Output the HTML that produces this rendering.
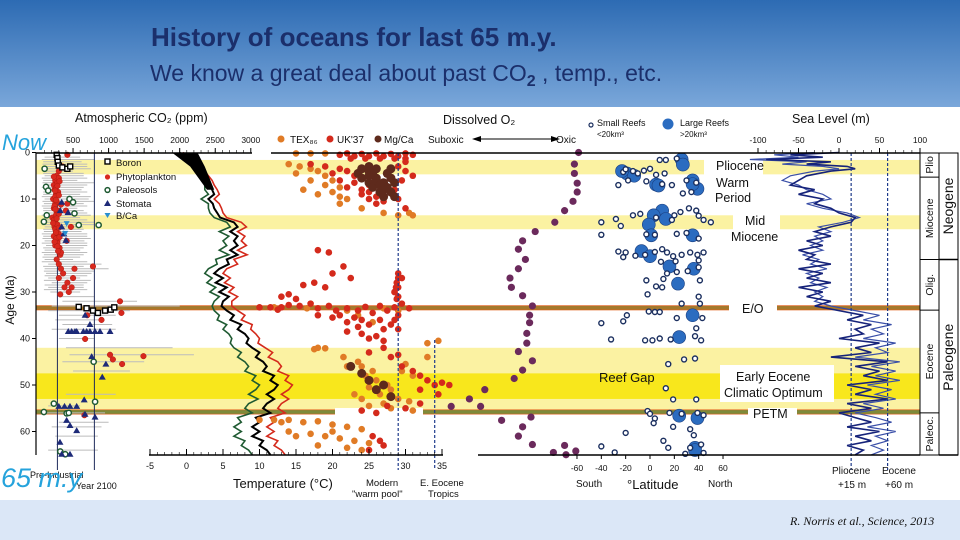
<!DOCTYPE html>
<html><head><meta charset="utf-8"><style>
html,body{margin:0;padding:0;width:960px;height:540px;overflow:hidden;background:#fff;font-family:"Liberation Sans",sans-serif}
#hdr{position:absolute;left:0;top:0;width:960px;height:107px;background:linear-gradient(#2d6bb3,#7aa7da)}
#t1{position:absolute;left:151px;top:22px;font-size:26px;font-weight:bold;color:#1b2f6b;white-space:nowrap}
#t2{position:absolute;left:150px;top:60px;font-size:23px;color:#1b2f6b;white-space:nowrap}
#foot{position:absolute;left:0;top:500px;width:960px;height:40px;background:#dbe7f7}
#cite{position:absolute;left:790px;top:14px;font-family:"Liberation Serif",serif;font-style:italic;font-size:12px;color:#111;white-space:nowrap}
svg{position:absolute;left:0;top:0}
</style></head><body>
<div id="hdr">
<div id="t1">History of oceans for last 65 m.y.</div>
<div id="t2">We know a great deal about past CO<b style="font-size:16px;vertical-align:-5px">2</b> , temp., etc.</div>
</div>
<div id="foot"><div id="cite">R. Norris et al., Science, 2013</div></div>
<svg id="chart" width="960" height="500" viewBox="0 0 960 500" style="top:0"></svg>
<script>
// ---- data ----
const bandStarts=[1.6,13.5,42,47.5];
const bandEnds=[4.7,16.5,55.5,53];
const eventAges=[33.4,55.8];
const epochBounds=[0,5.3,23,33.9,56,65.5];
const epochNames=["Plio","Miocene","Olig.","Eocene","Paleoc."];
const periodBounds=[0,23,65.5];
const periodNames=["Neogene","Paleogene"];
const ageTicks=[0,10,20,30,40,50,60];
const co2Ticks=[500,1000,1500,2000,2500,3000];
const tempTicks=[-5,0,5,10,15,20,25,30,35];
const latTicks=[-60,-40,-20,0,20,40,60];
const seaTicks=[-100,-50,0,50,100];
// CO2 proxies
const boronAge=[0.5,1.2,2,2.8,3.2,3.5,3.0,33.2,33.5,34,34.5,34,33.8,33.3];
const boronPpm=[270,280,285,300,350,420,460,580,690,780,850,950,1030,1080];
const phytoAge=[0.5,3,4,5,6,7,8,9,10,11,12,13,14,15,16,17,18,19,20,21,22,23,24,25,26,27,28,29,30,30.5,25,24.5,27,29,11,12.5,16,19,35,36,34.5,32,43.5,43.8,45.5,44.5,56.5,40.1,
 5.5,6.5,7.5,8.5,9.5,10.5,11.5,12.5,13.5,14.5,15.5,16.5,17.5,18.5,19.5,20.5,21.5,5.2,6.2,7.2,8.2,9.2,10.2,11.2,12.2,13.2,14.2,15.2,16.2,17.2,18.2,19.2,20.2,21.2];
const phytoPpm=[420,350,300,270,250,230,240,260,220,250,230,270,210,250,240,260,230,280,250,300,320,270,300,330,360,300,420,380,440,320,520,780,500,480,420,400,470,410,700,900,1180,1160,1020,1490,1190,1060,660,670,
 300,280,260,290,250,270,240,290,260,230,280,250,300,260,280,310,330,230,310,280,250,300,260,330,250,300,270,220,300,260,310,240,280,290];
const paleoAge=[3.5,7.4,8.2,10,10.7,13.1,14.9,13.5,15.6,15.6,45,53.6,54,55.8,56.1,64.9,64.3,56];
const paleoPpm=[100,120,150,450,500,520,90,130,580,860,790,810,230,90,410,390,320,440];
const stomAge=[10.7,12.5,16,17.5,18.9,12.9,37,35,38.5,38.5,38.5,38.5,38.5,38.5,38.5,38.5,38.5,38.5,43.9,45.5,48.3,53.2,54.6,54.6,54.6,54.6,56.3,56.9,57.6,58.7,59.8,62.3,64.9,64.9];
const stomPpm=[340,320,340,370,400,430,738,670,433,480,527,551,645,691,738,809,879,1020,762,962,911,657,551,457,380,300,668,809,410,457,551,316,457,340];
const bcaAge=[15.3,17.4];
const bcaPpm=[410,390];
const errAge=[1,2,3,4,5,6,7,8,9,10,11,12,13,14,15,16,17,18,19,20,21,22,23,24,25,26,27,28,29,30,31,32,33,34,35,36,37,38,40,42,43.5,45,47,52,54.5,56,58,59,61,64,
 1.5,2.5,3.5,4.5,5.5,6.5,7.5,8.5,9.5,10.5,11.5,12.5,13.5,14.5,15.5,16.5,17.5,18.5,19.5,20.5,21.5,22.5,23.5,24.5,25.5,26.5,27.5,28.5,29.5];
const errLo=[100,80,90,120,100,80,90,100,80,100,90,80,100,90,80,100,90,80,100,120,100,90,100,150,100,120,150,200,150,180,300,350,200,150,300,250,350,200,300,400,450,350,500,400,150,100,300,200,250,150,
 60,70,60,80,60,70,60,80,60,70,60,80,60,70,60,80,60,70,60,80,60,70,60,80,90,100,90,100,90];
const errHi=[600,620,700,500,650,560,700,620,600,720,650,560,700,600,800,640,620,700,660,700,600,650,500,900,1000,760,600,700,650,600,800,1400,2000,1300,1100,900,1050,1100,800,1900,2200,1500,1300,1100,600,950,1000,900,850,850,
 800,700,750,650,700,800,650,700,750,800,700,650,750,700,800,650,700,750,700,650,700,600,700,650,800,700,750,650,700];
// temperature curves
const tAge=[0,1,2,3,4,5,6,7,8,9,10,11,12,13,14,15,16,17,18,19,20,21,22,23,24,25,26,27,28,29,30,31,32,33,34,35,36,37,38,39,40,41,42,43,44,45,46,47,48,49,50,51,52,53,54,55,56,57,58,59,60,61,62,63,64,65];
const tBlack=[-1,0,1,1.5,2,2.5,3,3.2,3.5,3.8,3,3.6,3.8,4.2,4.6,6.5,7,6,7,6.5,7,6,7,5.5,5.8,4.5,3.8,5,4,5.5,4.5,5.8,5,4.8,5.5,6.5,6,7.5,7,8,8.5,8.2,9,10,9.5,10.5,11,10.5,12,11.5,12.5,12,11,12,11,10.5,11.5,9.5,10,9,10,9,10.5,10,11,11.5];
const tGreen=[-1,-0.5,0.5,1,1.5,2,2.5,2.5,2.5,3,2,3,3,3.2,3.8,5.5,6,4.5,5.8,5,5.5,4.5,5.8,4,4.2,3,2.5,3.5,2.8,4,3.2,4.5,3.8,3.5,3.8,4.5,4.2,5.5,5,5.8,6.2,6,6.5,7.5,7,8,8.5,8,9.5,9,10,9.5,8.5,9.8,8.5,8,9,7,7.5,6.5,7.5,6.5,8,7.5,8.5,9];
const tRed=[-0.5,0.5,1.5,2,2.5,3,3.5,3.8,4.2,4.5,3.8,4.5,4.8,5,5.5,7.5,8.2,7,8,7.5,8.2,7,8.3,6.5,7,5.5,5,6,5.2,6.5,5.8,7,6.2,6.2,7,8,7.5,9,8.8,9.5,10,9.8,10.8,11.8,11.2,12.5,13,12.5,14,13.5,14.5,14,13,14,13,12.5,13.5,11.5,12,11,12,11,12.5,12,13,13.5];
// temperature proxies
const ukAge=[0.2,0.3,0.2,0.3,0.2,0.8,0.8,0.8,0.8,1.3,1.3,1.3,1.3,1.3,0.5,0.5,2.5,3,3.5,4,4.5,5,5.5,6,6.5,7,7.5,8,8.5,9,9.5,10,10.5,11,4,5,3,2,6,8,10,12,21,21.5,24.5,27,26,29,28.5,28,26,27,29,30,31,33.3,33.3,33.3,32.8,33,32.5,33.5,33,34,33.5,34,33.2,34.5,33,34,33.3,32.5,33.5,35,35.5,36,36.5,37,37.5,36,37,38,39,39.5,40,40.5,35,35.5,38.5,31,31.5,30.5,30,31.5,29,28,27,35,36,38,33.8,44,46,47,48,49,49.5,50,51,50,52,54,55,56,55.5,43,42,43.5,54.5,63,64,62,61];
const ukTemp=[22,24,26,28,30,23,25,27,29,22.5,24.5,26.5,28.5,30,21,31,17,19,21,22,20,23,24,21,23,25,22,24,25,24,26,25,27,26,30,31,29,30,29.5,28.5,29,30,18,19.5,21.5,22.5,20,19,16,17.5,29,29.5,29,28.5,29,10,11.5,13,14,15.5,17,18,19.5,20.5,22,23.5,24.5,25.5,26.5,27.5,28.5,29.5,30.5,21,23,24,22,25,23.5,26.5,28,27,24,26,25,27,18,20,22,13,15,14,28.5,28.8,28.7,28.8,29,29,28.5,29,12.5,28,29.5,31,32,33,35,34,32,36,34.5,32,30,26,24,25,27,29,27.5,27,25,26.5,25.5];
const texAge=[0.2,0.2,0.2,2.5,3,3.5,4,4.5,5,6,6,7,7.5,8,8.5,9,9.5,10,11,12,13,13.5,13.5,13,33.3,33.5,34,33.5,34,35,36.5,42,42.3,42.1,44,45,46,47,48,49,50,50.5,51,52,53,53.5,54,54.5,55,41,40.5,45.5,47,48,55.5,44,46,52,53,57.5,57.5,57.5,58,57.8,58.5,59,59.5,60,60.5,61,61.5,62,62.5,63,63.5,58,60,61,64];
const texTemp=[15,17,19,14,15.5,17,18,15,19,17,20,19,21,16,20,18,21,22,21,24,27,29,31,30.5,12,16.5,22,27,29,23.5,25.5,18,17.5,19,21.5,23.5,24,25.5,24.5,26,27.5,25,28,26.5,29,30.5,27,25,28,33,34.5,30,29.5,31,31,33,22,23,24,10,12,14,16,18,20,22,24,14,17,19,21,23,25,18,22,13,20,15,24];
const mgAge=[3.5,3.5,3.5,4.5,4.5,4.5,5.5,5.5,5.5,6.5,6.5,6.5,7.5,7.5,8.5,8.5,9.5,9.5,3,4,5,6,7,8,46,47.5,49,50,51,52.5];
const mgTemp=[24,26,28,23.5,25.5,27.5,24,26,28,25,27,28.5,25.5,27.5,26.5,28,27,28.5,25,25,25,26,26.5,27,22.5,24,25,27,26,28];
// dissolved O2 (relative, 0 = suboxic, 100 = oxic)
const o2Age=[0,2.5,4.5,6.6,8.5,10.5,12.5,15,17,19,20.8,23,25,27,29,30.8,33,35,36.6,38.9,41,42.8,44.8,46.8,48.6,51,54.6,53,54.6,57.6,56.9,59,61,62.8,64.5,63,65,64.2];
const o2Val=[99,96,96,98,98,95,89,82,68,59,56,61,56,50,51,59,66,64,64,62,62,56,66,59,53,32,29,21,8,44,65,59,56,66,81,89,90,97];
// reefs
const smallLat=[8,13,22,-22,-20,-14,-10,-5,0,5,12,-26,-18,-3,10,18,30,38,34,27,38,32,25,20,40,44,50,-40,-28,-24,-14,-8,5,18,-40,-3,4,22,30,40,-26,-22,-20,-12,-4,4,10,14,19,26,33,39,44,40,9,21,11,14,22,31,40,41,-3,5,10,-2,26,40,41,-1,4,8,-19,-22,22,43,-40,38,-32,-4,2,8,17,37,42,15,28,37,13,19,38,-2,0,4,16,26,39,44,3,19,33,36,-20,11,15,-40,-29,29,33,44,42];
const smallAge=[1.6,1.6,1.3,4.2,3.6,4,4.5,3.9,3.5,4.8,4.5,7,6,6.2,6.8,7,6,6.5,8.5,8.8,12.5,12,12.8,13.5,13.6,14.5,15,15,14.3,15.8,13.5,13.2,14,14.5,17.7,17.6,17.7,17.5,17.3,18.5,21.3,22.5,21.5,22.2,22,21.4,20.8,21.5,22.3,22,21.5,22,21.5,23.2,23.5,23.4,27.2,26,25.7,25.5,24.7,27.5,27.5,28.8,29,30.5,32.5,31,32.5,34.2,34.3,34.3,35,36.3,35.6,35.6,36.7,37.8,40.2,40.4,40.4,40,40.2,39.5,40.4,45.5,44.5,44.3,50.7,53.1,53.1,55.6,56.2,57.2,56,56.2,56,56.5,58.2,59,59.5,60.8,60.3,62,63.5,63.2,64.5,64.8,63.5,64.6,62.8];
const largeLat=[26,27,-19,-13,-23,5,7,35,39,35,10,3,13,-1,1,35,-7,0,16,36,23,35,24,24,39,37,37];
const largeAge=[1.5,2.6,4.5,5,4,6.9,7.1,6,7.8,6.8,12.5,13.5,14.3,15.5,17.8,17.8,21.2,22.3,24.5,25,28.2,35,39.7,56.6,57.1,63.5,64];
// sea level
const seaAge=[0,0.5,1,1.5,2,2.5,3,3.5,4,5,6,7,8,9,10,11,12,13,14,15,16,17,18,19,20,21,22,23,24,25,26,27,28,29,30,31,32,33,34,35,36,37,38,39,40,41,42,43,44,45,46,47,48,49,50,51,52,53,54,55,56,57,58,59,60,61,62,63,64,65];
const seaA=[0,-60,-20,-90,-10,-40,10,20,-10,-40,-50,-60,-30,-50,-20,-30,-10,0,20,15,-10,-30,-10,-40,-20,-50,-30,-40,-10,-50,-20,-40,-10,-50,-20,-40,-10,-30,0,30,10,40,20,30,0,50,20,40,-10,60,20,50,30,60,10,40,20,60,10,40,0,20,40,10,50,20,40,10,30,20];
const seaB=[-30,-80,-50,-110,-40,-70,-20,0,-30,-60,-70,-50,-40,-20,-10,-40,-20,10,25,5,-25,-10,-30,-20,-35,-20,-45,-25,-35,-15,-40,-25,-35,-15,-30,-20,-30,-10,20,50,30,65,40,55,30,70,45,60,20,75,40,70,45,75,35,65,45,70,30,55,20,45,65,35,70,45,60,40,55,40];

// ---- scales ----
const yA=a=>152.5+a*4.65;
const xC=p=>37.5+p*0.0711;
const xT=t=>186.5+t*7.3;
const xL=l=>650+l*1.217;
const xS=m=>839+m*0.81;
const xO=v=>440+v*1.4;

const svg=document.getElementById('chart');
const NS='http://www.w3.org/2000/svg';
function mk(tag,attrs,parent){const e=document.createElementNS(NS,tag);for(const k in attrs)e.setAttribute(k,attrs[k]);(parent||svg).appendChild(e);return e;}
function txt(x,y,s,size,extra){const e=mk('text',Object.assign({x:x,y:y,'font-size':size,fill:'#111','font-family':'Liberation Sans, sans-serif'},extra||{}));e.textContent=s;return e;}

let bg=mk('rect',{x:0,y:107,width:960,height:393,fill:'#fff'});



const bandColors=['#fbf2a2','#fbf2a2','#fbf2a2','#f8e71c'];
for(let i=0;i<bandStarts.length;i++){
  const r=mk('rect',{x:36,y:yA(bandStarts[i]),width:884,height:yA(bandEnds[i])-yA(bandStarts[i]),fill:bandColors[i]});
  
  
}
const evColors=['#a4792c','#7e8a3a'];
for(let i=0;i<eventAges.length;i++){
  const y=yA(eventAges[i]);
  mk('rect',{x:36,y:y-2.5,width:884,height:5,fill:'#e0601e'});
  const r=mk('rect',{x:36,y:y-1.8,width:884,height:3.6,fill:evColors[i]});
  
  
}
[[704,yA(1.6)-1,59,16],[733,yA(13.5)-1,47,16],[729,yA(33.4)-4,48,8],[748,yA(55.8)-4,49,8],[335,yA(55.8)-4,88,8]].forEach(g=>mk('rect',{x:g[0],y:g[1],width:g[2],height:g[3],fill:'#fff'}));
let eeco=mk('rect',{x:720,y:365,width:114,height:37,fill:'#fff'});



for(let i=0;i<errAge.length;i++){
  const e=mk('line',{x1:xC(errLo[i]),x2:xC(errHi[i]),y1:yA(errAge[i]),y2:yA(errAge[i]),stroke:'#bcbcbc','stroke-width':1});
  
  
}
let pl=mk('line',{x1:xC(280),x2:xC(280),y1:153,y2:470,stroke:'#1e2a5a','stroke-width':1});


let yl=mk('line',{x1:xC(800),x2:xC(800),y1:153,y2:470,stroke:'#1e2a5a','stroke-width':1});



for(let i=0;i<phytoAge.length;i++){const c=mk('circle',{cx:xC(phytoPpm[i]),cy:yA(phytoAge[i]),r:2.8,fill:'#d8281e',stroke:'#b01a10','stroke-width':0.5});
}
for(let i=0;i<paleoAge.length;i++){const c=mk('circle',{cx:xC(paleoPpm[i]),cy:yA(paleoAge[i]),r:2.6,fill:'#fff',stroke:'#1f5a32','stroke-width':1.5});
}
for(let i=0;i<stomAge.length;i++){const x=xC(stomPpm[i]),y=yA(stomAge[i]);const c=mk('polygon',{points:`${x},${y-3.5} ${x-3.5},${y+2.5} ${x+3.5},${y+2.5}`,fill:'#1d2a78'});
}
for(let i=0;i<bcaAge.length;i++){const x=xC(bcaPpm[i]),y=yA(bcaAge[i]);const c=mk('polygon',{points:`${x-3},${y-2.5} ${x+3},${y-2.5} ${x},${y+3}`,fill:'#2a8fd0'});
}
for(let i=0;i<boronAge.length;i++){const c=mk('rect',{x:xC(boronPpm[i])-2.5,y:yA(boronAge[i])-2.5,width:5,height:5,fill:'#fff',stroke:'#000','stroke-width':1.4});
}

function curve(vals,color,name,w){const d=tAge.map((a,i)=>(i?'L':'M')+xT(vals[i]).toFixed(1)+','+yA(a).toFixed(1)).join(' ');
 const p=mk('path',{d:d,fill:'none',stroke:color,'stroke-width':w});
 }
curve(tRed,'#d42a1c','temp-curve-red',1.6);
curve(tGreen,'#1f5a32','temp-curve-green',1.6);
curve(tBlack,'#000','temp-curve-black',2);
let blob=mk('path',{d:`M${xT(-2)},${yA(0)} L${xT(1.5)},${yA(0)} L${xT(2.5)},${yA(3)} L${xT(3.8)},${yA(8)} L${xT(2.8)},${yA(8)} L${xT(0.5)},${yA(3)} Z`,fill:'#000'});


for(let i=0;i<texAge.length;i++){const c=mk('circle',{cx:xT(texTemp[i]),cy:yA(texAge[i]),r:3.3,fill:'#e07b26'});
}
for(let i=0;i<ukAge.length;i++){const c=mk('circle',{cx:xT(ukTemp[i]),cy:yA(ukAge[i]),r:3.3,fill:'#d42a1c'});
}
for(let i=0;i<mgAge.length;i++){const c=mk('circle',{cx:xT(mgTemp[i]),cy:yA(mgAge[i]),r:4.5,fill:'#5e2a1c'});
}
let wp=mk('line',{x1:xT(29),x2:xT(29),y1:153,y2:470,stroke:'#1e3a8a','stroke-width':1.2,'stroke-dasharray':'3,2'});

let et=mk('line',{x1:xT(34),x2:xT(34),y1:340,y2:470,stroke:'#1e3a8a','stroke-width':1.2,'stroke-dasharray':'3,2'});


for(let i=0;i<o2Age.length;i++){const c=mk('circle',{cx:xO(o2Val[i]),cy:yA(o2Age[i]),r:3.6,fill:'#6b2a5c'});
}

for(let i=0;i<largeLat.length;i++){const c=mk('circle',{cx:xL(largeLat[i]),cy:yA(largeAge[i]),r:6.5,fill:'#2b6cc0',stroke:'#1b3f80','stroke-width':0.6});
}
for(let i=0;i<smallLat.length;i++){const c=mk('circle',{cx:xL(smallLat[i]),cy:yA(smallAge[i]),r:2.5,fill:'#fff',stroke:'#1b2f5f','stroke-width':1.4});
}

function seaCurve(vals,color,name,w){const d=seaAge.map((a,i)=>(i?'L':'M')+xS(vals[i]).toFixed(1)+','+yA(a).toFixed(1)).join(' ');
 const p=mk('path',{d:d,fill:'none',stroke:color,'stroke-width':w});
 }
seaCurve(seaB,'#3a4fa8','sea-level-curve-b',1.2);
seaCurve(seaA,'#16237a','sea-level-curve-a',1.6);
[15,60].forEach(m=>{const l=mk('line',{x1:xS(m),x2:xS(m),y1:153,y2:470,stroke:'#1e3a8a','stroke-width':1.2,'stroke-dasharray':'3,2'});
});

mk('line',{x1:36,x2:36,y1:153,y2:455,stroke:'#000','stroke-width':1.2});
let ca=mk('line',{x1:36,x2:252,y1:153,y2:153,stroke:'#000','stroke-width':1.5});

mk('line',{x1:271,x2:920,y1:153,y2:153,stroke:'#000','stroke-width':1.5});
let ta=mk('line',{x1:149,x2:443,y1:455,y2:455,stroke:'#000','stroke-width':1.5});

mk('line',{x1:478,x2:920,y1:455,y2:455,stroke:'#000','stroke-width':1.5});
ageTicks.forEach(a=>{mk('line',{x1:32,x2:36,y1:yA(a),y2:yA(a),stroke:'#000'});const t=txt(30,yA(a)+3,String(a),9,{'text-anchor':'end'});
});
co2Ticks.forEach(p=>{mk('line',{x1:xC(p),x2:xC(p),y1:148,y2:153,stroke:'#000'});const t=txt(xC(p),143,String(p),8.5,{'text-anchor':'middle'});
});
for(let p=100;p<3000;p+=100)mk('line',{x1:xC(p),x2:xC(p),y1:150,y2:153,stroke:'#000','stroke-width':0.6});
tempTicks.forEach(v=>{mk('line',{x1:xT(v),x2:xT(v),y1:449,y2:455,stroke:'#000'});const t=txt(xT(v),469,String(v),9,{'text-anchor':'middle'});
});
for(let v=-5;v<35;v++)mk('line',{x1:xT(v),x2:xT(v),y1:452,y2:455,stroke:'#000','stroke-width':0.6});
latTicks.forEach(v=>{mk('line',{x1:xL(v),x2:xL(v),y1:455,y2:459,stroke:'#000'});const t=txt(xL(v),471,String(v),8.5,{'text-anchor':'middle'});
});
seaTicks.forEach(v=>{mk('line',{x1:xS(v),x2:xS(v),y1:148,y2:153,stroke:'#000'});const t=txt(xS(v),143,String(v),8.5,{'text-anchor':'middle'});
});
for(let v=-90;v<100;v+=10)mk('line',{x1:xS(v),x2:xS(v),y1:150,y2:153,stroke:'#000','stroke-width':0.6});

mk('rect',{x:920,y:153,width:38,height:302,fill:'#fff',stroke:'#000','stroke-width':1});
mk('line',{x1:939,x2:939,y1:153,y2:455,stroke:'#000'});
for(let i=0;i<epochNames.length;i++){const y0=yA(epochBounds[i]),y1=Math.min(yA(epochBounds[i+1]),455);
 mk('line',{x1:920,x2:939,y1:y1,y2:y1,stroke:'#000'});
 const t=txt(933,(y0+y1)/2,epochNames[i],10.5,{'text-anchor':'middle',transform:`rotate(-90 933 ${(y0+y1)/2})`});
 }
for(let i=0;i<periodNames.length;i++){const y0=yA(periodBounds[i]),y1=Math.min(yA(periodBounds[i+1]),455);
 mk('line',{x1:939,x2:958,y1:y1,y2:y1,stroke:'#000','stroke-width':1.5});
 const t=txt(953,(y0+y1)/2,periodNames[i],14,{'text-anchor':'middle',transform:`rotate(-90 953 ${(y0+y1)/2})`});
 }

const L=[
 [75,122,'Atmospheric CO₂ (ppm)',12.5,'co2-axis-title'],
 [443,124,'Dissolved O₂',12.5,'o2-title'],
 [792,123,'Sea Level (m)',12.5,'sea-level-title'],
 [428,143,'Suboxic',10,'suboxic-label'],
 [556,143,'Oxic',10,'oxic-label'],
 [597,126,'Small Reefs',9,'small-reefs-legend'],
 [597,137,'<20km³',8,'small-reefs-size'],
 [680,126,'Large Reefs',9,'large-reefs-legend'],
 [680,137,'>20km³',8,'large-reefs-size'],
 [290,143,'TEX₈₆',10,'tex86-legend'],
 [337,143,'UK\'37',10,'uk37-legend'],
 [384,143,'Mg/Ca',10,'mgca-legend'],
 [116,166,'Boron',9.5,'boron-legend'],
 [116,180,'Phytoplankton',9.5,'phyto-legend'],
 [116,193,'Paleosols',9.5,'paleosols-legend'],
 [116,207,'Stomata',9.5,'stomata-legend'],
 [116,219,'B/Ca',9.5,'bca-legend'],
 [716,170,'Pliocene',12.5,'pliocene-label'],
 [716,187,'Warm',12.5,'warm-label'],
 [715,202,'Period',12.5,'period-label-text'],
 [745,225,'Mid',12.5,'mid-label'],
 [731,241,'Miocene',12.5,'miocene-label'],
 [742,313,'E/O',12.5,'eo-label'],
 [599,382,'Reef Gap',13,'reef-gap-label'],
 [736,381,'Early Eocene',12.5,'eeco-label-1'],
 [724,397,'Climatic Optimum',12.5,'eeco-label-2'],
 [753,418,'PETM',12.5,'petm-label'],
 [233,488,'Temperature (°C)',13,'temperature-axis-title'],
 [366,486,'Modern',9.5,'warm-pool-label-1'],
 [352,497,'"warm pool"',9.5,'warm-pool-label-2'],
 [420,486,'E. Eocene',9.5,'tropics-label-1'],
 [428,497,'Tropics',9.5,'tropics-label-2'],
 [576,487,'South',10,'south-label'],
 [627,489,'°Latitude',13,'latitude-axis-title'],
 [708,487,'North',10,'north-label'],
 [832,474,'Pliocene',10,'pliocene-sea-label'],
 [882,474,'Eocene',10,'eocene-sea-label'],
 [838,488,'+15 m',10,'pliocene-sea-value'],
 [885,488,'+60 m',10,'eocene-sea-value'],
 [30,478,'Pre-Industrial',9,'preindustrial-label'],
 [76,489,'Year 2100',9,'year-2100-label']
];
L.forEach(l=>{const t=txt(l[0],l[1],l[2],l[3]);});
mk('circle',{cx:281,cy:139,r:3.5,fill:'#e07b26'});mk('circle',{cx:330,cy:139,r:3.5,fill:'#d42a1c'});mk('circle',{cx:378,cy:139,r:3.5,fill:'#5e2a1c'});
mk('rect',{x:105,y:159,width:5,height:5,fill:'#fff',stroke:'#000','stroke-width':1.4});
mk('circle',{cx:107.5,cy:177,r:2.6,fill:'#d8281e'});
mk('circle',{cx:107.5,cy:190,r:2.4,fill:'#fff',stroke:'#1f5a32','stroke-width':1.5});
mk('polygon',{points:'107.5,200 104,206 111,206',fill:'#1d2a78'});
mk('polygon',{points:'104.5,213 110.5,213 107.5,218',fill:'#2a8fd0'});
mk('circle',{cx:591,cy:125,r:2,fill:'#fff',stroke:'#1b2f5f','stroke-width':1.2});
mk('circle',{cx:668,cy:124,r:5.5,fill:'#2b6cc0'});
mk('line',{x1:481,x2:552,y1:139,y2:139,stroke:'#000','stroke-width':1});
mk('polygon',{points:'472,139 481,136 481,142',fill:'#000'});mk('polygon',{points:'560,139 551,136 551,142',fill:'#000'});
let at=txt(14,300,'Age (Ma)',12,{'text-anchor':'middle',transform:'rotate(-90 14 300)'});

let now=txt(2,150,'Now',22,{fill:'#25a3dc','font-style':'italic'});

let my=txt(1,487,'65 m.y',27,{fill:'#25a3dc','font-style':'italic'});

</script>
</body></html>
